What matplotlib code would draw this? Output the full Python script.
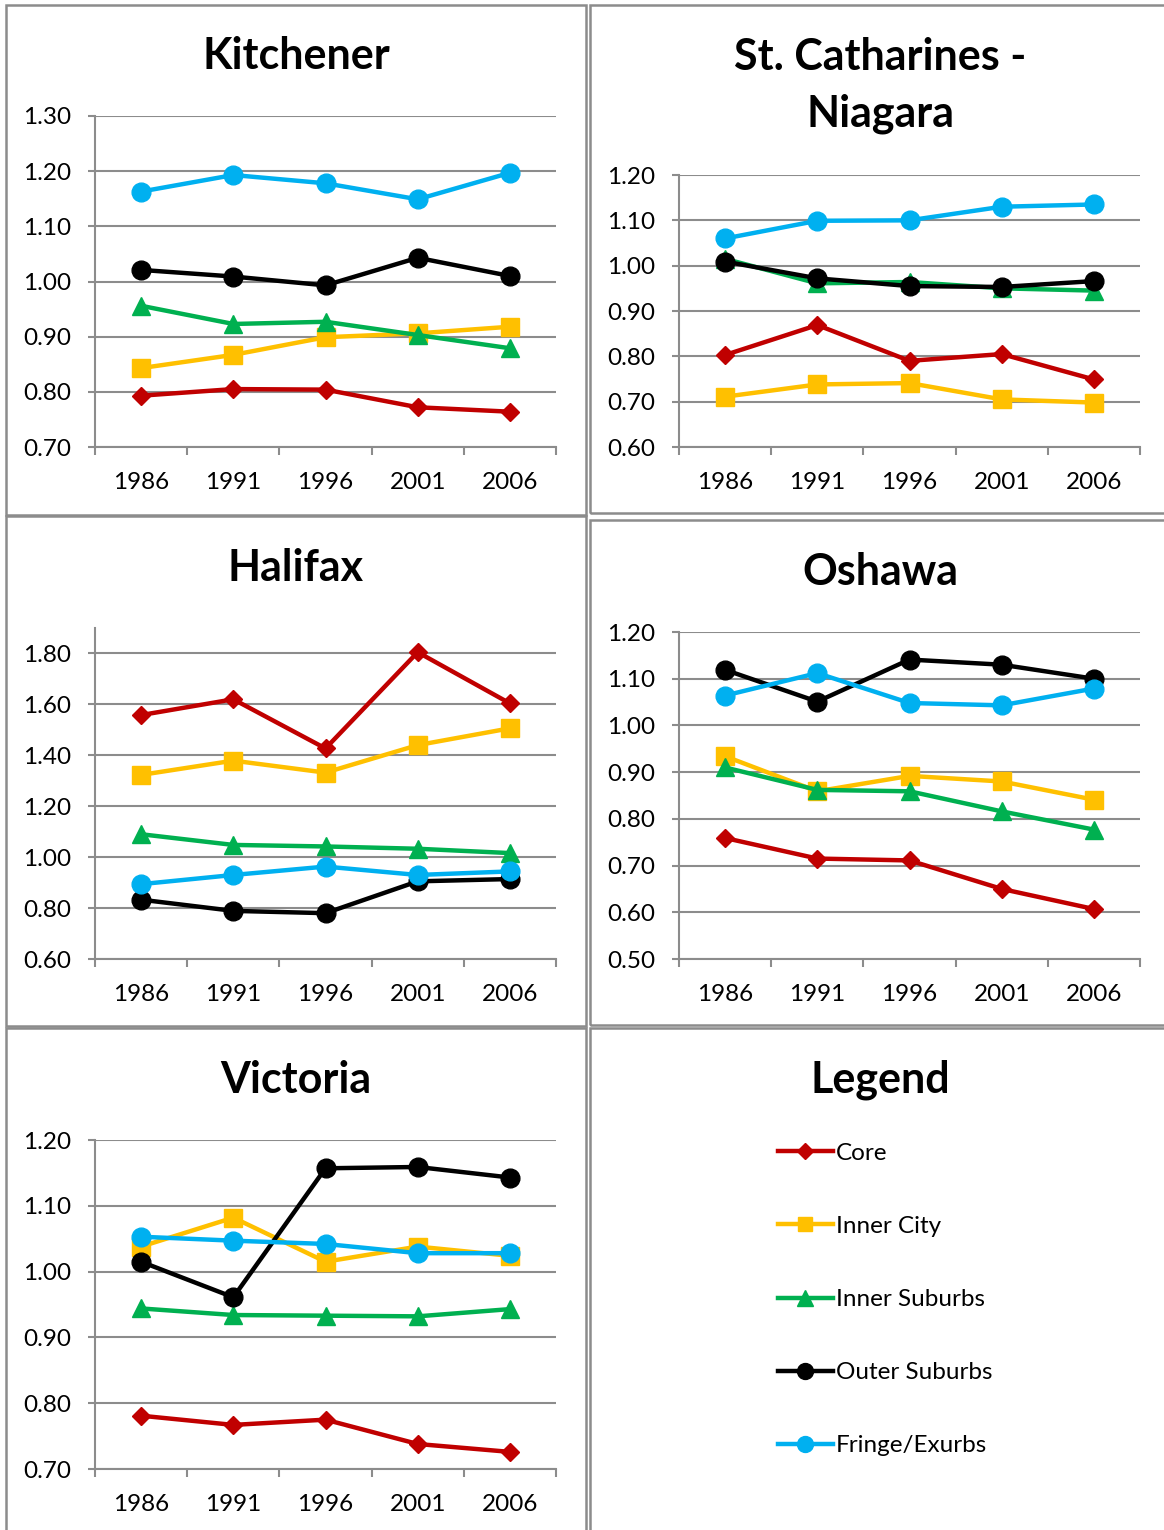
import numpy as np
import matplotlib
matplotlib.use('Agg')
import matplotlib.pyplot as plt
from matplotlib.patches import Rectangle
from matplotlib.ticker import FixedLocator, FormatStrFormatter

plt.rcParams['font.family'] = ['Lato', 'DejaVu Sans']

years = ['1986', '1991', '1996', '2001', '2006']
series_names = ['Core', 'Inner City', 'Inner Suburbs', 'Outer Suburbs', 'Fringe/Exurbs']
colors = ['#C00000', '#FFC000', '#00B050', '#000000', '#00B0F0']
markers = ['D', 's', '^', 'o', 'o']
msizes = [9.5, 12.5, 13, 13.5, 13.5]

kitchener_core = [0.793, 0.805, 0.804, 0.772, 0.764]
kitchener_inner_city = [0.843, 0.867, 0.899, 0.906, 0.918]
kitchener_inner_sub = [0.956, 0.923, 0.927, 0.903, 0.879]
kitchener_outer_sub = [1.021, 1.009, 0.993, 1.043, 1.010]
kitchener_fringe = [1.163, 1.193, 1.178, 1.149, 1.197]

stcath_core = [0.803, 0.869, 0.790, 0.805, 0.749]
stcath_inner_city = [0.711, 0.738, 0.741, 0.705, 0.698]
stcath_inner_sub = [1.015, 0.961, 0.964, 0.950, 0.945]
stcath_outer_sub = [1.009, 0.972, 0.955, 0.953, 0.966]
stcath_fringe = [1.060, 1.099, 1.100, 1.130, 1.135]

halifax_core = [1.558, 1.620, 1.427, 1.805, 1.604]
halifax_inner_city = [1.323, 1.379, 1.332, 1.440, 1.506]
halifax_inner_sub = [1.090, 1.048, 1.042, 1.033, 1.016]
halifax_outer_sub = [0.833, 0.789, 0.780, 0.905, 0.914]
halifax_fringe = [0.894, 0.930, 0.963, 0.930, 0.944]

oshawa_core = [0.759, 0.715, 0.711, 0.650, 0.607]
oshawa_inner_city = [0.934, 0.859, 0.892, 0.880, 0.841]
oshawa_inner_sub = [0.910, 0.862, 0.859, 0.816, 0.777]
oshawa_outer_sub = [1.119, 1.051, 1.141, 1.130, 1.100]
oshawa_fringe = [1.064, 1.112, 1.048, 1.043, 1.079]

victoria_core = [0.781, 0.767, 0.775, 0.738, 0.726]
victoria_inner_city = [1.038, 1.082, 1.015, 1.038, 1.024]
victoria_inner_sub = [0.944, 0.934, 0.933, 0.932, 0.943]
victoria_outer_sub = [1.015, 0.961, 1.157, 1.159, 1.143]
victoria_fringe = [1.053, 1.047, 1.042, 1.028, 1.028]

W, H = 1164, 1530
gray = '#8c8c8c'
fig = plt.figure(figsize=(W / 100, H / 100), dpi=100)


def px_axes(x0, y0, x1, y1):
    return fig.add_axes([x0 / W, 1 - y1 / H, (x1 - x0) / W, (y1 - y0) / H])


def panel(x0, y0, x1, y1):
    fig.patches.append(Rectangle((x0 / W, 1 - y1 / H), (x1 - x0) / W, (y1 - y0) / H,
                                 transform=fig.transFigure, fill=False, ec=gray, lw=1.8))


def title(cx, cy, text):
    fig.text(cx / W, 1 - cy / H, text, ha='center', va='center',
             fontsize=31, fontweight='bold', linespacing=1.5)


def chart(box, data, ylo, yhi, ystep, ytop=None):
    ax = px_axes(*box)
    x = np.arange(len(years))
    for vals, c, m, ms, name in zip(data, colors, markers, msizes, series_names):
        ax.plot(x, vals, color=c, lw=3.2, marker=m, ms=ms, mec=c, label=name,
                solid_joinstyle='round', clip_on=False)
    ax.set_xlim(-0.5, len(years) - 0.5)
    ax.set_ylim(ylo, ytop if ytop else yhi)
    ax.yaxis.set_major_locator(FixedLocator(np.arange(ylo, yhi + ystep / 2, ystep)))
    ax.yaxis.set_major_formatter(FormatStrFormatter('%.2f'))
    ax.set_xticks(x)
    ax.set_xticklabels(years)
    ax.set_xticks(np.arange(-0.5, len(years)), minor=True)
    ax.tick_params(axis='x', which='major', length=0, pad=18, labelsize=17.5)
    ax.tick_params(axis='x', which='minor', length=6, width=1.5, color=gray)
    ax.tick_params(axis='y', length=5, width=1.5, color=gray, pad=12, labelsize=17.5)
    ax.grid(axis='y', color=gray, lw=1.5)
    ax.set_axisbelow(True)
    for s in ['top', 'right']:
        ax.spines[s].set_visible(False)
    for s in ['left', 'bottom']:
        ax.spines[s].set_color(gray)
        ax.spines[s].set_linewidth(1.5)
    return ax


# panel frames
panel(6, 5, 586, 515)
panel(590, 5, 1172, 513)
panel(6, 516, 586, 1026)
panel(590, 520, 1172, 1025)
panel(6, 1028, 586, 1540)
panel(590, 1028, 1172, 1540)

chart((95, 116, 556, 447),
      [kitchener_core, kitchener_inner_city, kitchener_inner_sub, kitchener_outer_sub, kitchener_fringe],
      0.70, 1.30, 0.10)
title(296, 56, 'Kitchener')

chart((679, 175, 1140, 447),
      [stcath_core, stcath_inner_city, stcath_inner_sub, stcath_outer_sub, stcath_fringe],
      0.60, 1.20, 0.10)
title(880, 85, 'St. Catharines -\nNiagara')

chart((95, 628, 556, 959),
      [halifax_core, halifax_inner_city, halifax_inner_sub, halifax_outer_sub, halifax_fringe],
      0.60, 1.80, 0.20, ytop=1.90)
title(296, 568, 'Halifax')

chart((679, 632, 1140, 959),
      [oshawa_core, oshawa_inner_city, oshawa_inner_sub, oshawa_outer_sub, oshawa_fringe],
      0.50, 1.20, 0.10)
title(880, 572, 'Oshawa')

ax = chart((95, 1140, 556, 1469),
           [victoria_core, victoria_inner_city, victoria_inner_sub, victoria_outer_sub, victoria_fringe],
           0.70, 1.20, 0.10)
title(296, 1080, 'Victoria')

# legend panel
title(880, 1080, 'Legend')
handles, labels = ax.get_legend_handles_labels()
fig.legend(handles, labels, loc='center left', bbox_to_anchor=(778 / W, 1 - 1299.5 / H),
           frameon=False, fontsize=17.5, handlelength=2.25, handletextpad=0.12,
           labelspacing=2.14, borderpad=0, borderaxespad=0, markerscale=0.85)

fig.savefig('out.png', dpi=100)
